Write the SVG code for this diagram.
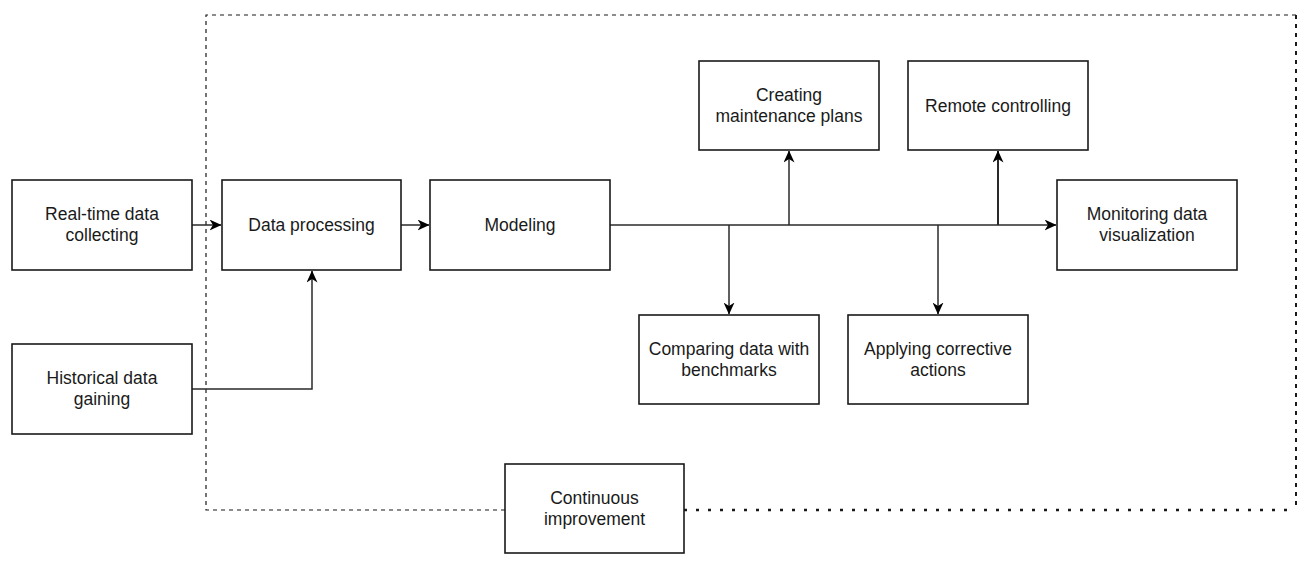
<svg xmlns="http://www.w3.org/2000/svg" width="1307" height="567" viewBox="0 0 1307 567">
<style>
.box{fill:#fff;stroke:#1a1a1a;stroke-width:1.6}
.t{font-family:"Liberation Sans",Arial,sans-serif;font-size:17.5px;fill:#1a1a1a;text-anchor:middle}
.c{fill:none;stroke:#2a2a2a;stroke-width:1.5}
</style>
<defs>
<marker id="ah" viewBox="0 0 12 11" refX="11.5" refY="5.5" markerWidth="12" markerHeight="11" markerUnits="userSpaceOnUse" orient="auto">
<path d="M0,0 L12,5.5 L0,11 L3.5,5.5 Z" fill="#000"/>
</marker>
</defs>
<rect width="1307" height="567" fill="#fff"/>
<g id="boundary" fill="none" stroke="#1a1a1a">
<path d="M505,510 H206 V15 H1296" stroke-width="1.2" stroke-dasharray="4 4"/>
<path d="M1296,15 V510" stroke-width="2" stroke-dasharray="4 5"/>
<path d="M684,510 H1296" stroke-width="2.5" stroke-dasharray="3 9"/>
</g>
<g id="connectors">
<path class="c" d="M192,225 H221" marker-end="url(#ah)"/>
<path class="c" d="M401,225 H429" marker-end="url(#ah)"/>
<path class="c" d="M192,389 H312 V271" marker-end="url(#ah)"/>
<path class="c" d="M610,225 H1056" marker-end="url(#ah)"/>
<path class="c" d="M789,225 V151" marker-end="url(#ah)"/>
<path class="c" d="M998,225 V151" marker-end="url(#ah)" style="stroke-width:2"/>
<path class="c" d="M729,225 V314" marker-end="url(#ah)"/>
<path class="c" d="M938,225 V314" marker-end="url(#ah)"/>
</g>
<g id="n-realtime"><rect class="box" x="12" y="180" width="180" height="90"/><text class="t" x="102" y="220">Real-time data</text><text class="t" x="102" y="241">collecting</text></g>
<g id="n-historical"><rect class="box" x="12" y="344" width="180" height="90"/><text class="t" x="102" y="384">Historical data</text><text class="t" x="102" y="405">gaining</text></g>
<g id="n-processing"><rect class="box" x="222" y="180" width="179" height="90"/><text class="t" x="311.5" y="231">Data processing</text></g>
<g id="n-modeling"><rect class="box" x="430" y="180" width="180" height="90"/><text class="t" x="520" y="231">Modeling</text></g>
<g id="n-maintenance"><rect class="box" x="699" y="61" width="180" height="89"/><text class="t" x="789" y="101">Creating</text><text class="t" x="789" y="122">maintenance plans</text></g>
<g id="n-remote"><rect class="box" x="908" y="61" width="180" height="89"/><text class="t" x="998" y="111.5">Remote controlling</text></g>
<g id="n-monitoring"><rect class="box" x="1057" y="180" width="180" height="90"/><text class="t" x="1147" y="220">Monitoring data</text><text class="t" x="1147" y="241">visualization</text></g>
<g id="n-comparing"><rect class="box" x="639" y="315" width="180" height="89"/><text class="t" x="729" y="355">Comparing data with</text><text class="t" x="729" y="376">benchmarks</text></g>
<g id="n-applying"><rect class="box" x="848" y="315" width="180" height="89"/><text class="t" x="938" y="355">Applying corrective</text><text class="t" x="938" y="376">actions</text></g>
<g id="n-continuous"><rect class="box" x="505" y="464" width="179" height="89"/><text class="t" x="594.5" y="504">Continuous</text><text class="t" x="594.5" y="525">improvement</text></g>
</svg>
